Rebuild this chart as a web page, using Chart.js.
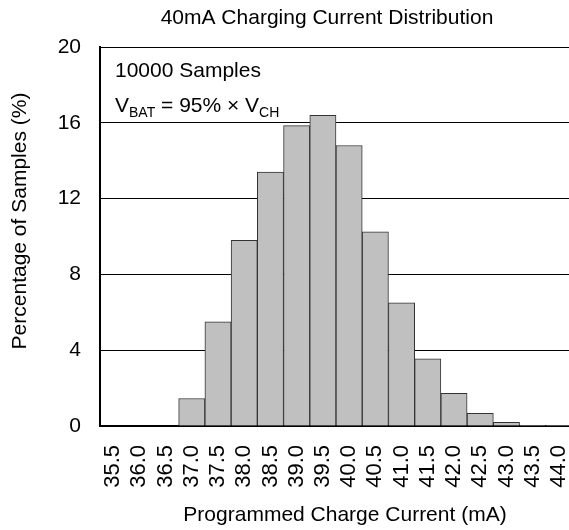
<!DOCTYPE html>
<html>
<head>
<meta charset="utf-8">
<script src="https://cdn.jsdelivr.net/npm/chart.js@4"></script>
<style>
  html, body { margin: 0; padding: 0; overflow: hidden; background: #fff; }
  #wrap { width: 572px; height: 530px; }
</style>
</head>
<body>
<div id="wrap"><canvas id="histogram"></canvas></div>
<script>
const binLabels = ['35.5', '36.0', '36.5', '37.0', '37.5', '38.0', '38.5', '39.0', '39.5',
  '40.0', '40.5', '41.0', '41.5', '42.0', '42.5', '43.0', '43.5', '44.0'];
const percentSamples = [0, 0, 0, 1.45, 5.5, 9.8, 13.4, 15.85, 16.4,
  14.8, 10.25, 6.5, 3.55, 1.73, 0.67, 0.2, 0.04, 0.02];
const yTicks = [0, 4, 8, 12, 16, 20];

const chartTitle = '40mA Charging Current Distribution';
const xTitle = 'Programmed Charge Current (mA)';
const yTitle = 'Percentage of Samples (%)';

const fontFamily = "'Liberation Sans', Arial, sans-serif";

// titles + the sample note, drawn as text on the canvas
const textPlugin = {
  id: 'texts',
  afterDraw(chart) {
    const ctx = chart.ctx;
    ctx.save();
    ctx.fillStyle = '#000';

    ctx.textAlign = 'center';
    ctx.textBaseline = 'middle';
    ctx.font = `21px ${fontFamily}`;
    ctx.fillText(chartTitle, 327, 18);
    ctx.fillText(xTitle, 345, 515);

    ctx.save();
    ctx.translate(20, 221);
    ctx.rotate(-Math.PI / 2);
    ctx.fillText(yTitle, 0, 0);
    ctx.restore();

    // note box
    const x = chart.chartArea.left + 15;
    ctx.textAlign = 'left';
    ctx.textBaseline = 'alphabetic';
    ctx.fillText('10000 Samples', x, 77);

    let cx = x;
    const base = 112;
    const part = (text, size, dy) => {
      ctx.font = `${size}px ${fontFamily}`;
      ctx.fillText(text, cx, base + dy);
      cx += ctx.measureText(text).width;
    };
    part('V', 21, 0);
    part('BAT', 14, 5);
    part(' = 95% × V', 21, 0);
    part('CH', 14, 5);
    ctx.restore();
  }
};

const histData = {
  labels: binLabels,
  datasets: [{
    data: percentSamples,
    backgroundColor: '#c0c0c0',
    borderColor: '#333',
    borderWidth: 1,
    categoryPercentage: 1.0,
    barPercentage: 1.0
  }]
};

const histConfig = {
  type: 'bar',
  data: histData,
  plugins: [textPlugin],
  options: {
    responsive: true,
    maintainAspectRatio: false,
    animation: false,
    layout: { padding: { top: 47, left: 0, right: 0, bottom: 0 } },
    plugins: {
      legend: { display: false },
      tooltip: { enabled: false },
      title: { display: false }
    },
    scales: {
      x: {
        afterFit: scale => {
          scale.height = 104;
          scale.paddingLeft = 0;
          scale.paddingRight = 0;
        },
        grid: { display: false },
        border: { display: true, color: '#000', width: 2 },
        ticks: {
          autoSkip: false,
          minRotation: 90,
          maxRotation: 90,
          padding: 11,
          color: '#000',
          font: { family: fontFamily, size: 22 }
        }
      },
      y: {
        min: 0,
        max: 20,
        afterFit: scale => { scale.width = 100; },
        afterBuildTicks: scale => { scale.ticks = yTicks.map(v => ({ value: v })); },
        grid: { color: '#000', lineWidth: 1, drawTicks: false },
        border: { display: true, color: '#000', width: 2 },
        ticks: {
          padding: 19,
          color: '#000',
          font: { family: fontFamily, size: 21 }
        }
      }
    }
  }
};

const histogramChart = new Chart(document.getElementById('histogram'), histConfig);
</script>
</body>
</html>
